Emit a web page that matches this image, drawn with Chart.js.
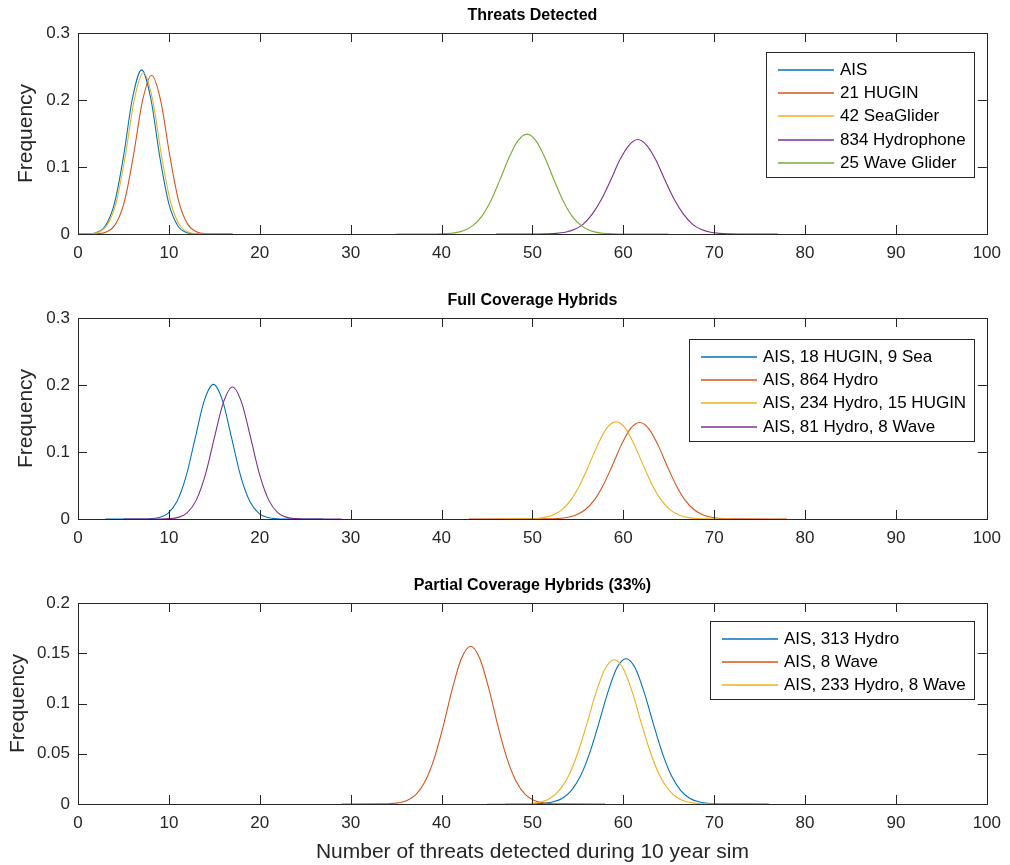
<!DOCTYPE html>
<html>
<head>
<meta charset="utf-8">
<script src="https://cdn.jsdelivr.net/npm/chart.js@4.4.1/dist/chart.umd.min.js"></script>
<style>
  body { margin: 0; background: #fff; }
  #wrap { position: relative; width: 1010px; height: 865px; }
  canvas { position: absolute; left: 0; }
</style>
</head>
<body>
<div id="wrap">
  <canvas id="c1" width="1010" height="283" style="top:0px"></canvas>
  <canvas id="c2" width="1010" height="284" style="top:283px"></canvas>
  <canvas id="c3" width="1010" height="298" style="top:567px"></canvas>
</div>
<script>
// ---- Threats Detected ----
const aisX = [0, 1, 2, 3, 4, 5, 6, 7, 8, 9, 10, 11, 12, 13, 14, 17];
const aisY = [0, 0.0003, 0.002, 0.012, 0.045, 0.115, 0.203, 0.245, 0.203, 0.115, 0.045, 0.012, 0.002, 0.0003, 0, 0];
const huginX = [0, 1.1, 2.1, 3.1, 4.1, 5.1, 6.1, 7.1, 8.1, 9.1, 10.1, 11.1, 12.1, 13.1, 14.1, 15.1, 17];
const huginY = [0, 0, 0.0004, 0.0029, 0.014, 0.048, 0.117, 0.199, 0.237, 0.199, 0.117, 0.048, 0.014, 0.0029, 0.0004, 0, 0];
const seaX = [0, 1.2, 2.2, 3.2, 4.2, 5.2, 6.2, 7.2, 8.2, 9.2, 10.2, 11.2, 12.2, 13.2, 14.2, 17];
const seaY = [0, 0.0003, 0.0025, 0.013, 0.047, 0.116, 0.201, 0.241, 0.201, 0.116, 0.047, 0.013, 0.0025, 0.0003, 0, 0];
const hydroX = [46, 50.6, 51.6, 52.6, 53.6, 54.6, 55.6, 56.6, 57.6, 58.6, 59.6, 60.6, 61.6, 62.6, 63.6, 64.6, 65.6, 66.6, 67.6, 68.6, 69.6, 70.6, 71.6, 72.6, 77];
const hydroY = [0, 0.0001, 0.0003, 0.0009, 0.0026, 0.0066, 0.0148, 0.030, 0.052, 0.080, 0.110, 0.132, 0.141, 0.132, 0.110, 0.080, 0.052, 0.030, 0.0148, 0.0066, 0.0026, 0.0009, 0.0003, 0.0001, 0];
const waveX = [35, 39.4, 40.4, 41.4, 42.4, 43.4, 44.4, 45.4, 46.4, 47.4, 48.4, 49.4, 50.4, 51.4, 52.4, 53.4, 54.4, 55.4, 56.4, 57.4, 58.4, 59.4, 65];
const waveY = [0, 0.0001, 0.0005, 0.0017, 0.0049, 0.0121, 0.026, 0.049, 0.080, 0.113, 0.139, 0.149, 0.139, 0.113, 0.080, 0.049, 0.026, 0.0121, 0.0049, 0.0017, 0.0005, 0.0001, 0];

// ---- Full Coverage Hybrids ----
const fullHuginX = [3, 6.9, 7.9, 8.9, 9.9, 10.9, 11.9, 12.9, 13.9, 14.9, 15.9, 16.9, 17.9, 18.9, 19.9, 20.9, 21.9, 22.9, 27];
const fullHuginY = [0, 0.0001, 0.0004, 0.0021, 0.0084, 0.0264, 0.064, 0.121, 0.177, 0.201, 0.177, 0.121, 0.064, 0.0264, 0.0084, 0.0021, 0.0004, 0.0001, 0];
const fullHydroX = [43, 51.8, 52.8, 53.8, 54.8, 55.8, 56.8, 57.8, 58.8, 59.8, 60.8, 61.8, 62.8, 63.8, 64.8, 65.8, 66.8, 67.8, 68.8, 69.8, 70.8, 71.8, 78];
const fullHydroY = [0, 0.0002, 0.0007, 0.0022, 0.0059, 0.0138, 0.0282, 0.0508, 0.080, 0.111, 0.135, 0.144, 0.135, 0.111, 0.080, 0.0508, 0.0282, 0.0138, 0.0059, 0.0022, 0.0007, 0.0002, 0];
const fullMixX = [47, 49.2, 50.2, 51.2, 52.2, 53.2, 54.2, 55.2, 56.2, 57.2, 58.2, 59.2, 60.2, 61.2, 62.2, 63.2, 64.2, 65.2, 66.2, 67.2, 68.2, 69.2, 72];
const fullMixY = [0, 0.0002, 0.0007, 0.0021, 0.0057, 0.0133, 0.0277, 0.0503, 0.080, 0.111, 0.136, 0.145, 0.136, 0.111, 0.080, 0.0503, 0.0277, 0.0133, 0.0057, 0.0021, 0.0007, 0.0002, 0];
const fullWaveX = [5, 9, 10, 11, 12, 13, 14, 15, 16, 17, 18, 19, 20, 21, 22, 23, 24, 25, 29];
const fullWaveY = [0, 0.0001, 0.0005, 0.0024, 0.0092, 0.0278, 0.0654, 0.121, 0.174, 0.197, 0.174, 0.121, 0.0654, 0.0278, 0.0092, 0.0024, 0.0005, 0.0001, 0];

// ---- Partial Coverage Hybrids (33%) ----
const partHydroX = [47, 50.3, 51.3, 52.3, 53.3, 54.3, 55.3, 56.3, 57.3, 58.3, 59.3, 60.3, 61.3, 62.3, 63.3, 64.3, 65.3, 66.3, 67.3, 68.3, 69.3, 70.3, 76];
const partHydroY = [0, 0.0002, 0.0007, 0.0022, 0.0058, 0.0136, 0.028, 0.0506, 0.080, 0.111, 0.1355, 0.1446, 0.1355, 0.111, 0.080, 0.0506, 0.028, 0.0136, 0.0058, 0.0022, 0.0007, 0.0002, 0];
const partWaveX = [29, 33.2, 34.2, 35.2, 36.2, 37.2, 38.2, 39.2, 40.2, 41.2, 42.2, 43.2, 44.2, 45.2, 46.2, 47.2, 48.2, 49.2, 50.2, 51.2, 52.2, 53.2, 58];
const partWaveY = [0, 0.0001, 0.0003, 0.0011, 0.0035, 0.0096, 0.0226, 0.0454, 0.078, 0.115, 0.145, 0.157, 0.145, 0.115, 0.078, 0.0454, 0.0226, 0.0096, 0.0035, 0.0011, 0.0003, 0.0001, 0];
const partMixX = [45, 49, 50, 51, 52, 53, 54, 55, 56, 57, 58, 59, 60, 61, 62, 63, 64, 65, 66, 67, 68, 69, 73];
const partMixY = [0, 0.0002, 0.0008, 0.0023, 0.006, 0.014, 0.0284, 0.051, 0.080, 0.111, 0.1346, 0.1436, 0.1346, 0.111, 0.080, 0.051, 0.0284, 0.014, 0.006, 0.0023, 0.0008, 0.0002, 0];

const BLUE = '#0072BD', RED = '#D95319', YELLOW = '#EDB120', PURPLE = '#7E2F8E', GREEN = '#77AC30';
const FONT = '"Liberation Sans", Arial, Helvetica, sans-serif';
Chart.defaults.font.family = FONT;

function series(label, xs, ys, color, i) {
  return {
    label: label,
    data: xs.map((x, k) => ({ x: x, y: ys[k] })),
    borderColor: color,
    borderWidth: 1.1,
    pointRadius: 0,
    showLine: true,
    fill: false,
    cubicInterpolationMode: 'monotone',
    order: -i
  };
}

// box round the axes, with ticks pointing inward on all four sides
const boxPlugin = {
  id: 'matlabBox',
  afterDraw(chart) {
    const { ctx, chartArea: a, scales } = chart;
    ctx.save();
    ctx.strokeStyle = '#262626';
    ctx.lineWidth = 1;
    ctx.beginPath();
    scales.x.ticks.forEach(t => {
      const px = Math.round(scales.x.getPixelForValue(t.value)) + 0.5;
      ctx.moveTo(px, a.bottom); ctx.lineTo(px, a.bottom - 9);
      ctx.moveTo(px, a.top); ctx.lineTo(px, a.top + 9);
    });
    scales.y.ticks.forEach(t => {
      const py = Math.round(scales.y.getPixelForValue(t.value)) + 0.5;
      ctx.moveTo(a.left, py); ctx.lineTo(a.left + 9, py);
      ctx.moveTo(a.right, py); ctx.lineTo(a.right - 9, py);
    });
    ctx.stroke();
    ctx.strokeRect(Math.round(a.left) + 0.5, Math.round(a.top) + 0.5,
      Math.round(a.right - a.left), Math.round(a.bottom - a.top));
    ctx.restore();
  }
};

// legend drawn inside the axes, top right, in a framed white box
const legendPlugin = {
  id: 'boxLegend',
  afterDraw(chart, args, opts) {
    const ctx = chart.ctx;
    const sets = chart.data.datasets;
    ctx.save();
    ctx.font = '17px ' + FONT;
    const textW = Math.max(...sets.map(d => ctx.measureText(d.label).width));
    const w = 12 + 56 + 6 + textW + 8;
    const h = 17.5 + (sets.length - 1) * 23.4 + 14;
    const left = Math.round(opts.right - w);
    const top = Math.round(opts.top);
    ctx.fillStyle = '#fff';
    ctx.fillRect(left, top, w, h);
    ctx.strokeStyle = '#262626';
    ctx.lineWidth = 1;
    ctx.strokeRect(left + 0.5, top + 0.5, Math.round(w), Math.round(h));
    sets.forEach((d, i) => {
      const y = Math.round(top + 17.5 + i * 23.4);
      ctx.strokeStyle = d.borderColor;
      ctx.lineWidth = 1.4;
      ctx.beginPath();
      ctx.moveTo(left + 12, y);
      ctx.lineTo(left + 68, y);
      ctx.stroke();
      ctx.fillStyle = '#000';
      ctx.textBaseline = 'middle';
      ctx.fillText(d.label, left + 74, y);
    });
    ctx.restore();
  }
};

const tickText = v => String(Number(v.toFixed(3)));

function panel(id, p) {
  return new Chart(document.getElementById(id), {
    type: 'scatter',
    data: { datasets: p.datasets },
    plugins: [boxPlugin, legendPlugin],
    options: {
      responsive: false,
      animation: false,
      events: [],
      layout: { padding: { left: 0, right: 19, top: 0, bottom: 0 } },
      plugins: {
        legend: { display: false },
        tooltip: { enabled: false },
        title: {
          display: true,
          text: p.title,
          fullSize: false,
          color: '#000',
          font: { size: 16, weight: 'bold' },
          padding: { top: p.titleTop, bottom: p.titleBottom }
        },
        boxLegend: { right: 974, top: p.legendTop }
      },
      scales: {
        x: {
          type: 'linear',
          min: 0,
          max: 100,
          grid: { display: false, drawTicks: false },
          border: { display: false },
          ticks: { stepSize: 10, color: '#262626', font: { size: 17 }, padding: 9, maxRotation: 0, callback: tickText },
          title: {
            display: !!p.xTitle,
            text: p.xTitle || '',
            color: '#262626',
            font: { size: 21 },
            padding: { top: 0, bottom: 0.4 }
          },
          afterFit: s => { s.height = p.xHeight; }
        },
        y: {
          min: 0,
          max: p.yMax,
          grid: { display: false, drawTicks: false },
          border: { display: false },
          ticks: { stepSize: p.yStep, color: '#262626', font: { size: 17 }, padding: 8, callback: tickText },
          title: {
            display: true,
            text: 'Frequency',
            color: '#262626',
            font: { size: 21 },
            padding: { top: p.yTitlePad, bottom: 0 }
          },
          afterFit: s => { s.width = 78; }
        }
      }
    }
  });
}

panel('c1', {
  title: 'Threats Detected',
  titleTop: 6.4, titleBottom: 7.4,
  xHeight: 49, yMax: 0.3, yStep: 0.1, yTitlePad: 13.4,
  legendTop: 51.7,
  datasets: [
    series('AIS', aisX, aisY, BLUE, 0),
    series('21 HUGIN', huginX, huginY, RED, 1),
    series('42 SeaGlider', seaX, seaY, YELLOW, 2),
    series('834 Hydrophone', hydroX, hydroY, PURPLE, 3),
    series('25 Wave Glider', waveX, waveY, GREEN, 4)
  ]
});

panel('c2', {
  title: 'Full Coverage Hybrids',
  titleTop: 8.4, titleBottom: 7.4,
  xHeight: 48, yMax: 0.3, yStep: 0.1, yTitlePad: 13.4,
  legendTop: 56,
  datasets: [
    series('AIS, 18 HUGIN, 9 Sea', fullHuginX, fullHuginY, BLUE, 0),
    series('AIS, 864 Hydro', fullHydroX, fullHydroY, RED, 1),
    series('AIS, 234 Hydro, 15 HUGIN', fullMixX, fullMixY, YELLOW, 2),
    series('AIS, 81 Hydro, 8 Wave', fullWaveX, fullWaveY, PURPLE, 3)
  ]
});

panel('c3', {
  title: 'Partial Coverage Hybrids (33%)',
  titleTop: 9.4, titleBottom: 7.4,
  xHeight: 61, yMax: 0.2, yStep: 0.05, yTitlePad: 5.5,
  xTitle: 'Number of threats detected during 10 year sim',
  legendTop: 53.7,
  datasets: [
    series('AIS, 313 Hydro', partHydroX, partHydroY, BLUE, 0),
    series('AIS, 8 Wave', partWaveX, partWaveY, RED, 1),
    series('AIS, 233 Hydro, 8 Wave', partMixX, partMixY, YELLOW, 2)
  ]
});
</script>
</body>
</html>
